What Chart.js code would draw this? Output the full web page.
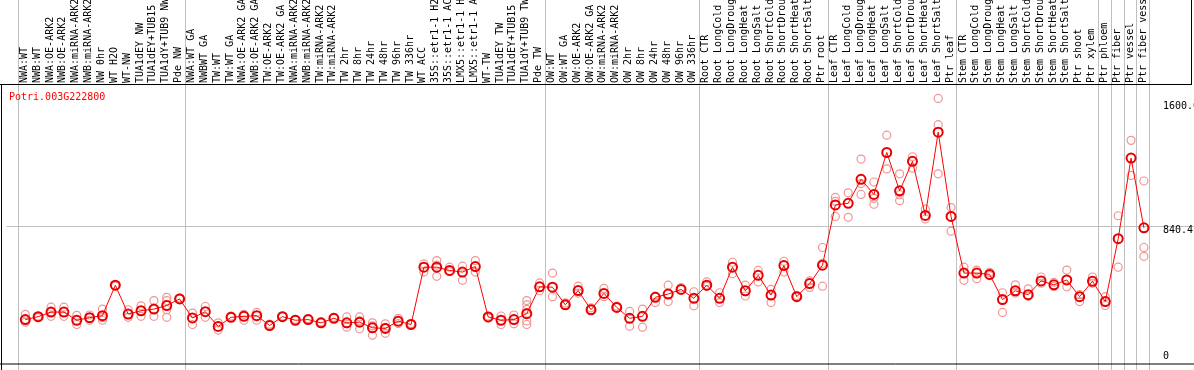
<!DOCTYPE html>
<html>
<head>
<meta charset="utf-8">
<script src="https://cdn.jsdelivr.net/npm/chart.js@4/dist/chart.umd.min.js"></script>
<style>
  body { margin: 0; background: #fff; }
  #wrap { width: 1194px; height: 370px; position: relative; }
</style>
</head>
<body>
<div id="wrap"><canvas id="expr_chart"></canvas></div>
<script>
var geneName = 'Potri.003G222800';

var sampleLabels = [
  'NWA:WT', 'NWB:WT', 'NWA:OE-ARK2', 'NWB:OE-ARK2', 'NWA:miRNA-ARK2', 'NWB:miRNA-ARK2',
  'NW 0hr', 'WT H2O', 'WT-NW', 'TUA1dEY NW', 'TUA1dEY+TUB15 NW', 'TUA1dY+TUB9 NW', 'Pde NW',
  'NWA:WT GA', 'NWBWT GA', 'TW:WT', 'TW:WT GA', 'NWA:OE-ARK2 GA', 'NWB:OE-ARK2 GA',
  'TW:OE-ARK2', 'TW:OE-ARK2 GA', 'NWA:miRNA-ARK2 GA', 'NWB:miRNA-ARK2 GA', 'TW:miRNA-ARK2',
  'TW:miRNA-ARK2 GA', 'TW 2hr', 'TW 8hr', 'TW 24hr', 'TW 48hr', 'TW 96hr', 'TW 336hr',
  'WT ACC', '35S::etr1-1 H2O', '35S::etr1-1 ACC', 'LMX5::etr1-1 H2O', 'LMX5::etr1-1 ACC',
  'WT-TW', 'TUA1dEY TW', 'TUA1dEY+TUB15 TW', 'TUA1dY+TUB9 TW', 'Pde TW',
  'OW:WT', 'OW:WT GA', 'OW:OE-ARK2', 'OW:OE-ARK2 GA', 'OW:miRNA-ARK2', 'OW:miRNA-ARK2 GA',
  'OW 2hr', 'OW 8hr', 'OW 24hr', 'OW 48hr', 'OW 96hr', 'OW 336hr',
  'Root CTR', 'Root LongCold', 'Root LongDrought', 'Root LongHeat', 'Root LongSalt',
  'Root ShortCold', 'Root ShortDrought', 'Root ShortHeat', 'Root ShortSalt', 'Ptr root',
  'Leaf CTR', 'Leaf LongCold', 'Leaf LongDrought', 'Leaf LongHeat', 'Leaf LongSalt',
  'Leaf ShortCold', 'Leaf ShortDrought', 'Leaf ShortHeat', 'Leaf ShortSalt', 'Ptr leaf',
  'Stem CTR', 'Stem LongCold', 'Stem LongDrought', 'Stem LongHeat', 'Stem LongSalt',
  'Stem ShortCold', 'Stem ShortDrought', 'Stem ShortHeat', 'Stem ShortSalt', 'Ptr shoot',
  'Ptr xylem', 'Ptr phloem', 'Ptr fiber', 'Ptr vessel', 'Ptr fiber vessel'
];

// mean expression per sample
var meanValues = [
  268, 286, 314, 314, 264, 280, 292, 478, 302, 322, 332, 354, 394,
  278, 316, 226, 282, 288, 292, 232, 286, 264, 268, 248, 276, 248, 252, 218, 214, 258, 238,
  588, 588, 568, 558, 592, 284, 264, 268, 304, 468,
  466, 358, 445, 328, 428, 342, 276, 288, 404, 424, 452, 398,
  478, 398, 588, 444, 538, 418, 598, 408, 488, 600,
  968, 978, 1124, 1032, 1288, 1054, 1234, 904, 1412, 898,
  552, 552, 544, 390, 444, 420, 504, 480, 510, 408,
  502, 378, 762, 1254, 828
];

// replicates per sample
var replicateValues = [
  [300, 252, 268], [290, 280], [344, 288, 314], [344, 288], [294, 238], [264, 296, 280],
  [332, 264, 280], [478, 472], [328, 282], [352, 288], [384, 288, 330], [404, 384, 328, 282],
  [394, 400],
  [308, 238], [348, 282], [248, 204], [282, 290], [264, 300], [312, 264], [232, 240],
  [286, 290], [264, 270], [268, 274], [248, 254], [276, 282], [284, 222], [284, 212, 260],
  [248, 172, 230], [242, 184, 220], [276, 244], [238, 244],
  [608, 558], [628, 532, 600], [588, 560], [594, 508], [628, 558], [290, 278], [290, 238],
  [296, 242], [384, 358, 330, 260, 238], [492, 444],
  [552, 408], [358, 370], [472, 430], [340, 328], [458, 408], [342, 350], [318, 228],
  [332, 222], [412, 372], [478, 378], [464, 452], [438, 352],
  [498, 470], [432, 372], [618, 548], [478, 412], [568, 498], [452, 372], [624, 558],
  [408, 415], [504, 464], [708, 472, 612],
  [1014, 990, 898], [1042, 892], [1248, 1098, 1032], [1108, 1008, 972], [1394, 1188],
  [1158, 1030, 994], [1262, 1192], [942, 882], [1618, 1458, 1158], [952, 808],
  [588, 508], [570, 518], [556, 536], [432, 312], [480, 430], [456, 410], [528, 490],
  [496, 470], [570, 468], [378, 420],
  [528, 490], [408, 354], [902, 588], [1362, 1148], [1114, 708, 654]
];

// last sample index of each group (-1 = before first)
var groupEnds = [-1, 12, 40, 52, 62, 72, 83, 84, 85, 86, 87];

var yTicks = [0, 840.4, 1600];
var yTickLabels = ['0', '840.4', '1600.0'];

var meanPoints = [];
for (var i = 0; i < meanValues.length; i++) {
  meanPoints.push({x: i, y: meanValues[i]});
}
var repPoints = [];
for (var i = 0; i < replicateValues.length; i++) {
  for (var j = 0; j < replicateValues[i].length; j++) {
    repPoints.push({x: i, y: replicateValues[i][j]});
  }
}

var monoFont = '10px "DejaVu Sans Mono", monospace';

var decorPlugin = {
  id: 'decor',
  beforeDatasetsDraw: function(chart) {
    var ctx = chart.ctx;
    var xs = chart.scales.x;
    var ys = chart.scales.y;
    var area = chart.chartArea;
    ctx.save();
    ctx.lineWidth = 1;
    ctx.strokeStyle = '#c0c0c0';
    // group separators
    for (var g = 0; g < groupEnds.length; g++) {
      var gx = Math.round(xs.getPixelForValue(groupEnds[g] + 0.42)) + 0.5;
      ctx.beginPath();
      ctx.moveTo(gx, 0);
      ctx.lineTo(gx, chart.height);
      ctx.stroke();
    }
    // middle grid line
    var gy = Math.round(ys.getPixelForValue(yTicks[1])) + 0.5;
    ctx.beginPath();
    ctx.moveTo(area.left, gy);
    ctx.lineTo(chart.width, gy);
    ctx.stroke();

    // frame
    ctx.strokeStyle = '#000';
    ctx.beginPath();
    ctx.moveTo(0, area.top - 0.5);
    ctx.lineTo(1192, area.top - 0.5);
    ctx.moveTo(1.5, area.top);
    ctx.lineTo(1.5, chart.height);
    ctx.moveTo(0, area.bottom + 0.5);
    ctx.lineTo(chart.width, area.bottom + 0.5);
    ctx.moveTo(1191.5, 0);
    ctx.lineTo(1191.5, area.top);
    ctx.stroke();

    // sample labels, rotated
    ctx.font = monoFont;
    ctx.fillStyle = '#000';
    ctx.textAlign = 'left';
    ctx.textBaseline = 'middle';
    for (var k = 0; k < sampleLabels.length; k++) {
      var lx = xs.getPixelForValue(k) - 1;
      ctx.save();
      ctx.translate(lx, area.top - 2);
      ctx.rotate(-Math.PI / 2);
      ctx.fillText(sampleLabels[k], 0, 0);
      ctx.restore();
    }

    // y tick labels
    ctx.textBaseline = 'top';
    for (var t = 0; t < yTicks.length; t++) {
      var ty = ys.getPixelForValue(yTicks[t]);
      if (ty > area.bottom - 12) ty = area.bottom - 12;
      ctx.fillText(yTickLabels[t], 1163, ty);
    }

    // gene name
    ctx.fillStyle = '#ff0000';
    ctx.fillText(geneName, 9, area.top + 7);
    ctx.restore();
  }
};

var expr_chart = new Chart(document.getElementById('expr_chart'), {
  type: 'line',
  data: {
    datasets: [
      {
        label: 'mean',
        data: meanPoints,
        borderColor: '#ff0000',
        borderWidth: 1,
        pointRadius: 4.5,
        pointBorderWidth: 2,
        pointBorderColor: '#e80000',
        pointBackgroundColor: 'rgba(0,0,0,0)',
        order: 0
      },
      {
        label: 'replicates',
        data: repPoints,
        showLine: false,
        pointRadius: 4,
        pointBorderWidth: 1.2,
        pointBorderColor: '#f09595',
        pointBackgroundColor: 'rgba(0,0,0,0)',
        order: 1
      }
    ]
  },
  options: {
    responsive: true,
    maintainAspectRatio: false,
    animation: false,
    layout: { padding: { top: 85, left: 1, right: 0, bottom: 1 } },
    scales: {
      x: { type: 'linear', display: false, min: -1.463, max: 90.39 },
      y: { type: 'linear', display: false, min: 0, max: 1700 }
    },
    plugins: {
      legend: { display: false },
      tooltip: { enabled: false }
    }
  },
  plugins: [decorPlugin]
});
</script>
</body>
</html>
